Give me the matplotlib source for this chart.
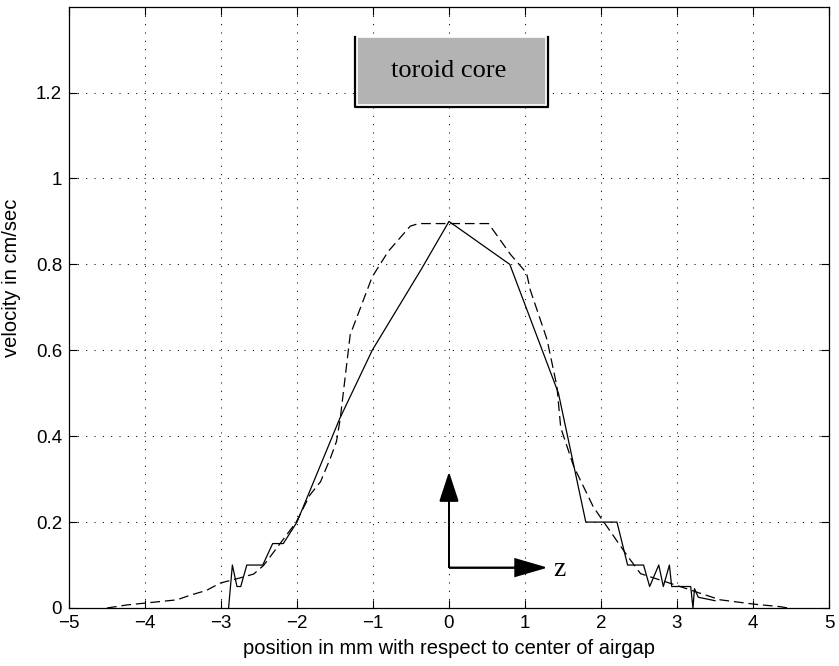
import matplotlib
matplotlib.use('Agg')
import matplotlib.pyplot as plt

plt.rcParams['font.family'] = ['Liberation Sans', 'DejaVu Sans']
plt.rcParams['lines.scale_dashes'] = False

# measured velocity (solid)
x_meas = [-2.90, -2.85, -2.79, -2.74, -2.66, -2.45, -2.32, -2.18, -2.00, -1.44,
          -1.01, -0.36, 0.00, 0.80, 1.44, 1.80, 2.21, 2.35, 2.56, 2.64,
          2.76, 2.82, 2.90, 2.93, 3.18, 3.21, 3.23, 3.28, 3.50]
y_meas = [0.00, 0.10, 0.05, 0.05, 0.10, 0.10, 0.15, 0.15, 0.20, 0.44,
          0.60, 0.79, 0.90, 0.80, 0.50, 0.20, 0.20, 0.10, 0.10, 0.05,
          0.10, 0.05, 0.10, 0.05, 0.05, 0.00, 0.045, 0.025, 0.017]

# calculated velocity (dashed)
x_calc = [-4.50, -4.24, -4.02, -3.58, -3.40, -3.19, -3.01, -2.75, -2.57, -2.44,
          -2.29, -2.01, -1.83, -1.69, -1.56, -1.48, -1.43, -1.30, -1.01, -0.80,
          -0.51, -0.40, 0.52, 0.81, 1.02, 1.07, 1.29, 1.42, 1.47, 1.64,
          1.90, 2.34, 2.52, 2.78, 3.04, 3.31, 3.57, 4.01, 4.36, 4.46]
y_calc = [0.000, 0.007, 0.011, 0.019, 0.030, 0.041, 0.058, 0.070, 0.079, 0.099,
          0.134, 0.200, 0.263, 0.294, 0.349, 0.388, 0.442, 0.636, 0.771, 0.830,
          0.889, 0.895, 0.895, 0.823, 0.780, 0.740, 0.625, 0.516, 0.420, 0.330,
          0.235, 0.123, 0.080, 0.065, 0.050, 0.034, 0.019, 0.009, 0.003, 0.000]

xticks = [-5, -4, -3, -2, -1, 0, 1, 2, 3, 4, 5]
yticks = [0, 0.2, 0.4, 0.6, 0.8, 1, 1.2]
ytick_labels = ['0', '0.2', '0.4', '0.6', '0.8', '1', '1.2']

fig = plt.figure(figsize=(8.39, 6.66), dpi=100)
ax = fig.add_axes([0.0822, 0.0871, 0.9059, 0.9029])

ax.plot(x_meas, y_meas, color='black', lw=0.9)
ax.plot(x_calc, y_calc, color='black', lw=0.9, linestyle='--', dashes=(7, 3.5))

ax.set_xlim(-5, 5)
ax.set_ylim(0, 1.4)
ax.set_xticks(xticks)
ax.set_xticklabels([str(t).replace('-', '\u2212') for t in xticks])
ax.set_yticks(yticks)
ax.set_yticklabels(ytick_labels)
ax.tick_params(direction='in', length=5.5, width=0.8, top=True, right=True,
               labelsize=13.5, pad=5)
for s in ax.spines.values():
    s.set_linewidth(0.9)

ax.grid(True, color='black', linestyle=(0, (0.75, 5.25)), lw=0.75)

ax.set_xlabel('position in mm with respect to center of airgap', fontsize=14.5, labelpad=5)
ax.set_ylabel('velocity in cm/sec', fontsize=14.5, va='center')
ax.yaxis.set_label_coords(-0.075, 0.549)

# title box
bx0, bx1, by0, by1 = -1.24, 1.30, 1.166, 1.33
ax.fill([bx0 + 0.03, bx1 - 0.03, bx1 - 0.03, bx0 + 0.03],
        [by0 + 0.006, by0 + 0.006, by1, by1],
        facecolor='#b3b3b3', edgecolor='white', lw=1.2, zorder=4)
ax.plot([bx0, bx0, bx1, bx1], [by1, by0, by0, by1], color='black', lw=1.6, zorder=5)
ax.text((bx0 + bx1) / 2 - 0.03, (by0 + by1) / 2 + 0.003, 'toroid core', ha='center', va='center',
        fontsize=19, family=['Liberation Serif', 'DejaVu Serif'], zorder=6)

# direction arrows
ax.arrow(0.0, 0.094, 0.0, 0.217, width=0.0, head_width=0.23, head_length=0.062,
         length_includes_head=True, color='black', lw=1.2, zorder=5)
ax.arrow(0.0, 0.094, 1.26, 0.0, width=0.0, head_width=0.04, head_length=0.39,
         length_includes_head=True, color='black', lw=1.2, zorder=5)
ax.text(1.37, 0.09, 'z', ha='left', va='center', fontsize=20,
        family=['Liberation Serif', 'DejaVu Serif'])

fig.savefig('out.png', dpi=100)
